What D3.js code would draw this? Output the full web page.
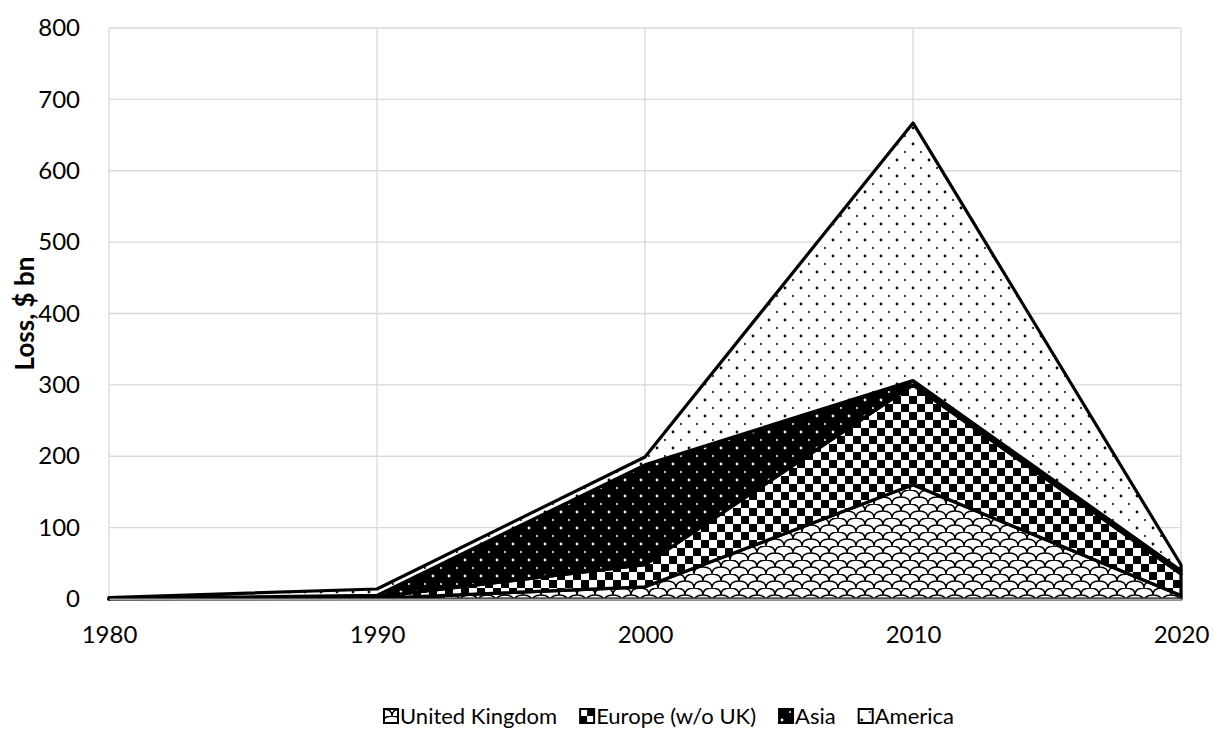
<!DOCTYPE html>
<html>
<head>
<meta charset="utf-8">
<script src="https://cdn.jsdelivr.net/npm/d3@7"></script>
<style>
  body { margin: 0; background: #fff; }
  text { font-family: Lato, "Open Sans", sans-serif; fill: #000; }
</style>
</head>
<body>
<div id="chart"></div>
<script>
// data
const years = [1980, 1990, 2000, 2010, 2020];
const seriesNames = ["United Kingdom", "Europe (w/o UK)", "Asia", "America"];
const ukValues = [0, 1, 17, 160, 5];
const europeValues = [0, 2, 31, 140, 30];
const asiaValues = [0.5, 2, 140, 6, 5];
const americaValues = [1.5, 9, 11, 361, 8];
const yTicks = [0, 100, 200, 300, 400, 500, 600, 700, 800];

const width = 1214;
const height = 729;
const margin = { top: 28, right: 33, bottom: 130, left: 109 };
const innerWidth = width - margin.left - margin.right;
const innerHeight = height - margin.top - margin.bottom;

const rows = years.map((year, i) => ({
  year,
  "United Kingdom": ukValues[i],
  "Europe (w/o UK)": europeValues[i],
  "Asia": asiaValues[i],
  "America": americaValues[i]
}));

const svg = d3.select("#chart")
  .append("svg")
  .attr("width", width)
  .attr("height", height);

// fill patterns, one per series
const defs = svg.append("defs");

const scales = defs.append("pattern")
  .attr("id", "pat-uk")
  .attr("patternUnits", "userSpaceOnUse")
  .attr("width", 18).attr("height", 14);
scales.append("rect").attr("width", 18).attr("height", 14).attr("fill", "#fff");
scales.append("path")
  .attr("d", "M0,7 Q0,0 9,0 Q18,0 18,7 M9,14 Q9,7 18,7 M0,7 Q9,7 9,14")
  .attr("fill", "none").attr("stroke", "#000").attr("stroke-width", 1.5);

const checker = defs.append("pattern")
  .attr("id", "pat-europe")
  .attr("patternUnits", "userSpaceOnUse")
  .attr("width", 16).attr("height", 16);
checker.append("rect").attr("width", 16).attr("height", 16).attr("fill", "#fff");
checker.append("rect").attr("width", 8).attr("height", 8).attr("fill", "#000");
checker.append("rect").attr("x", 8).attr("y", 8).attr("width", 8).attr("height", 8).attr("fill", "#000");

const asiaDots = defs.append("pattern")
  .attr("id", "pat-asia")
  .attr("patternUnits", "userSpaceOnUse")
  .attr("width", 16).attr("height", 16);
asiaDots.append("rect").attr("width", 16).attr("height", 16).attr("fill", "#000");
asiaDots.append("circle").attr("cx", 4).attr("cy", 4).attr("r", 1.4).attr("fill", "#fff");
asiaDots.append("circle").attr("cx", 12).attr("cy", 12).attr("r", 1).attr("fill", "#fff");

const amDots = defs.append("pattern")
  .attr("id", "pat-america")
  .attr("patternUnits", "userSpaceOnUse")
  .attr("width", 16).attr("height", 16);
amDots.append("rect").attr("width", 16).attr("height", 16).attr("fill", "#fff");
amDots.append("circle").attr("cx", 4).attr("cy", 4).attr("r", 1.4).attr("fill", "#000");
amDots.append("circle").attr("cx", 12).attr("cy", 12).attr("r", 1).attr("fill", "#000");

const fillScale = d3.scaleOrdinal()
  .domain(seriesNames)
  .range(["url(#pat-uk)", "url(#pat-europe)", "url(#pat-asia)", "url(#pat-america)"]);

const xScale = d3.scaleLinear()
  .domain([1980, 2020])
  .range([0, innerWidth]);

const yScale = d3.scaleLinear()
  .domain([0, 800])
  .range([innerHeight, 0]);

const g = svg.append("g")
  .attr("transform", `translate(${margin.left},${margin.top})`);

// gridlines
g.append("g")
  .selectAll("line")
  .data(yTicks.slice(1))
  .enter()
  .append("line")
  .attr("x1", 0).attr("x2", innerWidth)
  .attr("y1", (d) => yScale(d)).attr("y2", (d) => yScale(d))
  .attr("stroke", "#d9d9d9").attr("stroke-width", 1.3);

g.append("g")
  .selectAll("line")
  .data(years)
  .enter()
  .append("line")
  .attr("x1", (d) => xScale(d)).attr("x2", (d) => xScale(d))
  .attr("y1", 0).attr("y2", innerHeight)
  .attr("stroke", "#d9d9d9").attr("stroke-width", 1.3);

// stacked areas
const stacked = d3.stack().keys(seriesNames)(rows);

const area = d3.area()
  .x((d) => xScale(d.data.year))
  .y0((d) => yScale(d[0]))
  .y1((d) => yScale(d[1]));

g.append("g")
  .selectAll("path")
  .data(stacked)
  .enter()
  .append("path")
  .attr("d", area)
  .attr("fill", (d) => fillScale(d.key))
  .attr("stroke", "#000")
  .attr("stroke-width", 3.2)
  .attr("stroke-linejoin", "round");

// axes
const xAxis = d3.axisBottom(xScale)
  .tickValues(years)
  .tickFormat(d3.format("d"))
  .tickSize(0)
  .tickPadding(27);

g.append("g")
  .attr("transform", `translate(0,${innerHeight})`)
  .call(xAxis)
  .call((ax) => ax.select(".domain").attr("stroke", "#a6a6a6").attr("stroke-width", 2))
  .selectAll("text")
  .style("font-size", "24px");

const yAxis = d3.axisLeft(yScale)
  .tickValues(yTicks)
  .tickSize(0)
  .tickPadding(29);

g.append("g")
  .call(yAxis)
  .call((ax) => ax.select(".domain").remove())
  .selectAll("text")
  .style("font-size", "24px");

svg.append("text")
  .attr("transform", "rotate(-90)")
  .attr("x", -(margin.top + yScale(400)))
  .attr("y", 34)
  .attr("text-anchor", "middle")
  .style("font-size", "26px")
  .style("font-weight", "bold")
  .text("Loss, $ bn");

// legend
const legend = svg.append("g")
  .attr("transform", "translate(383,716)");

let lx = 0;
seriesNames.forEach((name) => {
  const item = legend.append("g").attr("transform", `translate(${lx},0)`);
  item.append("rect")
    .attr("x", 1).attr("y", -7)
    .attr("width", 14).attr("height", 14)
    .attr("fill", fillScale(name))
    .attr("stroke", "#000")
    .attr("stroke-width", 2);
  const t = item.append("text")
    .attr("x", 17)
    .attr("y", 8)
    .style("font-size", "22px")
    .text(name);
  lx += 17 + t.node().getComputedTextLength() + 22;
});
</script>
</body>
</html>
